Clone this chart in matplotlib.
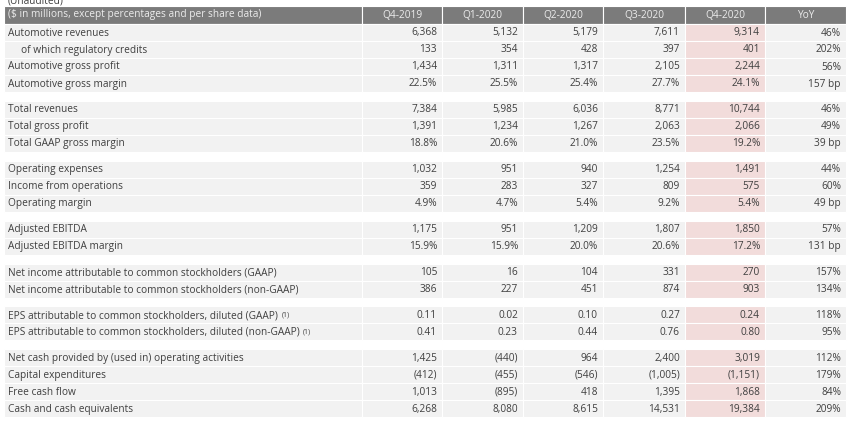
import matplotlib.pyplot as plt
from matplotlib.patches import Rectangle

# table content
header_label = "($ in millions, except percentages and per share data)"
periods = ["Q4-2019", "Q1-2020", "Q2-2020", "Q3-2020", "Q4-2020", "YoY"]

groups = [
    [("Automotive revenues", ["6,368", "5,132", "5,179", "7,611", "9,314", "46%"]),
     ("  of which regulatory credits", ["133", "354", "428", "397", "401", "202%"]),
     ("Automotive gross profit", ["1,434", "1,311", "1,317", "2,105", "2,244", "56%"]),
     ("Automotive gross margin", ["22.5%", "25.5%", "25.4%", "27.7%", "24.1%", "157 bp"])],
    [("Total revenues", ["7,384", "5,985", "6,036", "8,771", "10,744", "46%"]),
     ("Total gross profit", ["1,391", "1,234", "1,267", "2,063", "2,066", "49%"]),
     ("Total GAAP gross margin", ["18.8%", "20.6%", "21.0%", "23.5%", "19.2%", "39 bp"])],
    [("Operating expenses", ["1,032", "951", "940", "1,254", "1,491", "44%"]),
     ("Income from operations", ["359", "283", "327", "809", "575", "60%"]),
     ("Operating margin", ["4.9%", "4.7%", "5.4%", "9.2%", "5.4%", "49 bp"])],
    [("Adjusted EBITDA", ["1,175", "951", "1,209", "1,807", "1,850", "57%"]),
     ("Adjusted EBITDA margin", ["15.9%", "15.9%", "20.0%", "20.6%", "17.2%", "131 bp"])],
    [("Net income attributable to common stockholders (GAAP)", ["105", "16", "104", "331", "270", "157%"]),
     ("Net income attributable to common stockholders (non-GAAP)", ["386", "227", "451", "874", "903", "134%"])],
    [("EPS attributable to common stockholders, diluted (GAAP)", ["0.11", "0.02", "0.10", "0.27", "0.24", "118%"]),
     ("EPS attributable to common stockholders, diluted (non-GAAP)", ["0.41", "0.23", "0.44", "0.76", "0.80", "95%"])],
    [("Net cash provided by (used in) operating activities", ["1,425", "(440)", "964", "2,400", "3,019", "112%"]),
     ("Capital expenditures", ["(412)", "(455)", "(546)", "(1,005)", "(1,151)", "179%"]),
     ("Free cash flow", ["1,013", "(895)", "418", "1,395", "1,868", "84%"]),
     ("Cash and cash equivalents", ["6,268", "8,080", "8,615", "14,531", "19,384", "209%"])],
]
footnoted = {"EPS attributable to common stockholders, diluted (GAAP)",
             "EPS attributable to common stockholders, diluted (non-GAAP)"}

# layout (pixels)
col_edges = [4, 362, 442, 523, 603, 685, 765, 846]
highlight_col = 4
row_h = 17.0
gap = 8.9
header_top, header_h = 6, 18

txt_color = "#3f3f3f"
cell_bg = "#f2f2f2"
pink_bg = "#f2dcdb"
head_bg = "#7b7b7b"
font = "Open Sans"
fs = 7.3

fig = plt.figure(figsize=(8.51, 4.23), dpi=100)
ax = fig.add_axes([0, 0, 1, 1])
ax.set_xlim(0, 851)
ax.set_ylim(423, 0)
ax.axis("off")

# title sits mostly above the cropped image edge
ax.text(8, 1.0, "(Unaudited)", fontsize=fs, color=txt_color, family=font, va="center")

# header
for c in range(len(col_edges) - 1):
    x0, x1 = col_edges[c], col_edges[c + 1]
    ax.add_patch(Rectangle((x0, header_top), x1 - x0, header_h, fc=head_bg, ec="white", lw=0.8))
    label = header_label if c == 0 else periods[c - 1]
    if c == 0:
        ax.text(x0 + 4, header_top + header_h / 2, label, fontsize=fs, color="#ececec",
                family=font, va="center", ha="left")
    else:
        ax.text((x0 + x1) / 2, header_top + header_h / 2, label, fontsize=fs, color="#ececec",
                family=font, va="center", ha="center")

y = header_top + header_h
for gi, group in enumerate(groups):
    if gi > 0:
        y += gap
    for name, vals in group:
        for c in range(len(col_edges) - 1):
            x0, x1 = col_edges[c], col_edges[c + 1]
            bg = pink_bg if c == highlight_col + 1 else cell_bg
            ax.add_patch(Rectangle((x0, y), x1 - x0, row_h, fc=bg, ec="white", lw=0.8))
        yc = y + row_h / 2 + 0.5
        indent = 17 if name.startswith("  ") else 4
        t = ax.text(col_edges[0] + indent, yc, name.strip(), fontsize=fs, color=txt_color,
                    family=font, va="center", ha="left")
        if name in footnoted:
            ax.annotate("(1)", xy=(1, 1), xycoords=t, xytext=(2.5, -1), textcoords="offset points",
                        fontsize=5, color=txt_color, family=font, va="top", ha="left")
        for c, v in enumerate(vals):
            ax.text(col_edges[c + 2] - 5, yc, v, fontsize=fs, color=txt_color,
                    family=font, va="center", ha="right")
        y += row_h

fig.savefig("out.png", dpi=100)
